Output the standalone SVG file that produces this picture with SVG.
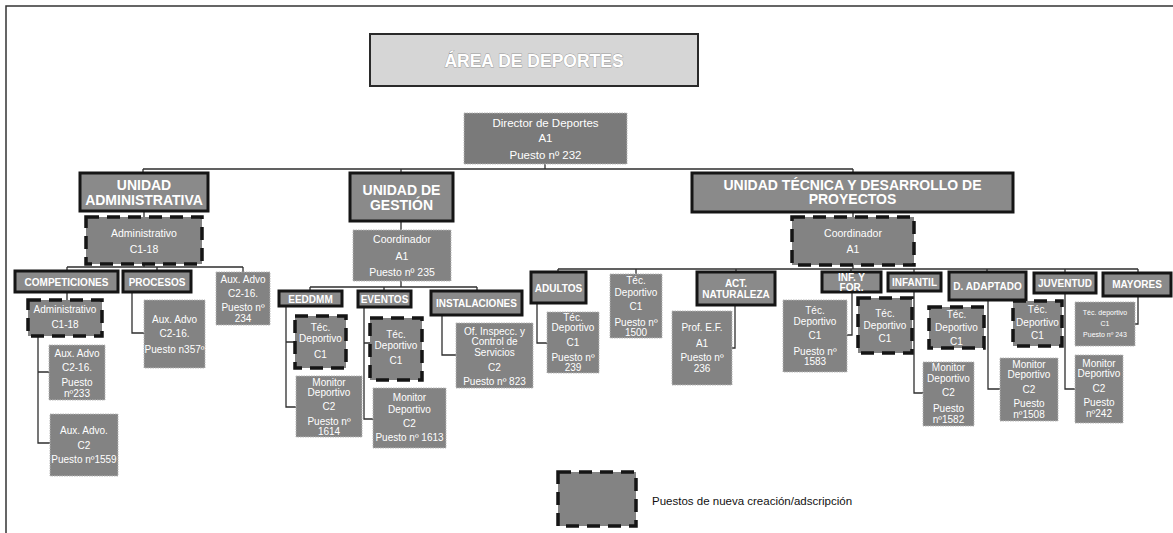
<svg xmlns="http://www.w3.org/2000/svg" width="1173" height="533" viewBox="0 0 1173 533">
<style>
.frame{fill:none;stroke:#333;stroke-width:1.5}
.post{fill:#838383;stroke:#b8b8b8;stroke-width:1;stroke-dasharray:1.5 1}
.new{fill:#838383;stroke:#151515;stroke-width:3.5;stroke-dasharray:13 8}
.unit{fill:#8a8a8a;stroke:#151515;stroke-width:3}
.title{fill:#d6d6d6;stroke:#2a2a2a;stroke-width:2}
.c{fill:none;stroke:#2e2e2e;stroke-width:1.3}
text{font-family:'Liberation Sans',Arial,sans-serif;fill:#fff;text-anchor:middle;font-size:10px}
.b{font-weight:bold}
.u{font-size:14px;font-weight:bold}
.m{font-size:10.5px}
.s{font-size:7px}
</style>
<rect x="0" y="0" width="1173" height="533" fill="#fff"/>
<path class="frame" d="M6,540 V6 H1180"/>

<g id="connectors">
<path class="c" d="M545,164 V169 M143,169 H853 M143,169 V173 M401,169 V173 M853,169 V173"/>
<path class="c" d="M144,211 V217 M144,264 V267 M67,267 H243 M67,267 V271 M157,267 V271 M243,267 V272"/>
<path class="c" d="M67,292 V300 M38,336 V443 H50 M38,372 H49 M132,292 V333 H144"/>
<path class="c" d="M401,221 V230 M401,281 V287 M310,287 H477 M310,287 V291 M384,287 V291 M477,287 V291"/>
<path class="c" d="M286,306 V407 H296 M286,342 H295 M364,307 V419 H373 M364,343 H370 M442,315 V355 H456"/>
<path class="c" d="M853,212 V217 M853,265 V269 M558,269 H1138 M558,269 V272 M636,269 V274 M736,269 V272 M851,269 V272 M914,269 V273 M987,269 V272 M1065,269 V273 M1138,269 V273"/>
<path class="c" d="M537,303 V343 H547 M735,305 V348 H732 M852,292 V335 H847 M914,291 V393 H923 M988,300 V389 H1000 M1065,293 V389 H1075 M1138,296 V324 H1135"/>
</g>

<g id="title">
<rect class="title" x="370" y="34" width="328" height="52"/>
<text x="534" y="67" class="b" style="font-size:17.5px;stroke:#9a9a9a;stroke-width:0.8;paint-order:stroke">ÁREA DE DEPORTES</text>
</g>

<g id="director">
<rect class="post" x="464" y="113" width="163" height="51" style="fill:#7a7a7a"/>
<text x="545.5" y="127" style="font-size:11.5px">Director de Deportes</text>
<text x="545.5" y="142" style="font-size:11.5px">A1</text>
<text x="545.5" y="159" style="font-size:11.5px">Puesto nº 232</text>
</g>

<g id="unidad-administrativa">
<rect class="unit" x="80" y="173" width="128" height="38"/>
<text x="144" y="190" class="u">UNIDAD</text>
<text x="144" y="205" class="u">ADMINISTRATIVA</text>
</g>
<g id="unidad-gestion">
<rect class="unit" x="350" y="173" width="103" height="48"/>
<text x="401.5" y="195" class="u">UNIDAD DE</text>
<text x="401.5" y="210" class="u">GESTIÓN</text>
</g>
<g id="unidad-tecnica">
<rect class="unit" x="692" y="173" width="321" height="39"/>
<text x="852.5" y="190" class="u">UNIDAD TÉCNICA Y DESARROLLO DE</text>
<text x="852.5" y="204" class="u">PROYECTOS</text>
</g>

<g id="ua-administrativo">
<rect class="new" x="86" y="217" width="116" height="47"/>
<text x="144" y="237" class="m">Administrativo</text>
<text x="144" y="253" class="m">C1-18</text>
</g>
<g id="competiciones">
<rect class="unit" x="15" y="271" width="103" height="21"/>
<text x="66.5" y="285.5" class="b">COMPETICIONES</text>
</g>
<g id="procesos">
<rect class="unit" x="123" y="271" width="68" height="21"/>
<text x="157" y="285.5" class="b">PROCESOS</text>
</g>
<g id="aux-234">
<rect class="post" x="216" y="272" width="54" height="53"/>
<text x="243" y="282.5">Aux. Advo</text>
<text x="243" y="296.5">C2-16.</text>
<text x="243" y="311">Puesto nº</text>
<text x="243" y="322">234</text>
</g>
<g id="comp-administrativo">
<rect class="new" x="28" y="300" width="74" height="36"/>
<text x="65" y="312.5">Administrativo</text>
<text x="65" y="327.5">C1-18</text>
</g>
<g id="aux-233">
<rect class="post" x="49" y="345" width="56" height="55"/>
<text x="77" y="356.5">Aux. Advo</text>
<text x="77" y="370.5">C2-16.</text>
<text x="77" y="385.5">Puesto</text>
<text x="77" y="396.5">nº233</text>
</g>
<g id="aux-1559">
<rect class="post" x="50" y="414" width="68" height="62"/>
<text x="84" y="433.5">Aux. Advo.</text>
<text x="84" y="448.5">C2</text>
<text x="84" y="462.5">Puesto nº1559</text>
</g>
<g id="aux-357">
<rect class="post" x="144" y="300" width="61" height="68"/>
<text x="174.5" y="322.5">Aux. Advo</text>
<text x="174.5" y="336.5">C2-16.</text>
<text x="174.5" y="352.5">Puesto n357º</text>
</g>

<g id="coordinador-235">
<rect class="post" x="353" y="230" width="98" height="51"/>
<text x="402" y="243" class="m">Coordinador</text>
<text x="402" y="260" class="m">A1</text>
<text x="402" y="276" class="m">Puesto nº 235</text>
</g>
<g id="eeddmm">
<rect class="unit" x="279" y="291" width="63" height="15"/>
<text x="310.5" y="302.5" class="b">EEDDMM</text>
</g>
<g id="eventos">
<rect class="unit" x="358" y="291" width="53" height="16"/>
<text x="384.5" y="303" class="b">EVENTOS</text>
</g>
<g id="instalaciones">
<rect class="unit" x="431" y="291" width="91" height="24"/>
<text x="476.5" y="306.5" class="b">INSTALACIONES</text>
</g>
<g id="eeddmm-tec">
<rect class="new" x="295" y="316" width="51" height="52"/>
<text x="320.5" y="330.5">Téc.</text>
<text x="320.5" y="341.5">Deportivo</text>
<text x="320.5" y="357.5">C1</text>
</g>
<g id="monitor-1614">
<rect class="post" x="296" y="376" width="66" height="61"/>
<text x="329" y="385.5">Monitor</text>
<text x="329" y="395.5">Deportivo</text>
<text x="329" y="409.5">C2</text>
<text x="329" y="424.5">Puesto nº</text>
<text x="329" y="434.5">1614</text>
</g>
<g id="eventos-tec">
<rect class="new" x="370" y="318" width="52" height="62"/>
<text x="396" y="337.5">Téc.</text>
<text x="396" y="348.5">Deportivo</text>
<text x="396" y="363.5">C1</text>
</g>
<g id="monitor-1613">
<rect class="post" x="373" y="388" width="73" height="60"/>
<text x="409.5" y="400.5">Monitor</text>
<text x="409.5" y="412.5">Deportivo</text>
<text x="409.5" y="426.5">C2</text>
<text x="409.5" y="440.5">Puesto nº 1613</text>
</g>
<g id="of-inspecc-823">
<rect class="post" x="456" y="323" width="77" height="65"/>
<text x="494.5" y="334.5">Of. Inspecc. y</text>
<text x="494.5" y="344.5">Control de</text>
<text x="494.5" y="355.5">Servicios</text>
<text x="494.5" y="370.5">C2</text>
<text x="494.5" y="384.5">Puesto nº 823</text>
</g>

<g id="ut-coordinador">
<rect class="new" x="792" y="217" width="122" height="48"/>
<text x="853" y="237" class="m">Coordinador</text>
<text x="853" y="253" class="m">A1</text>
</g>
<g id="adultos">
<rect class="unit" x="531" y="272" width="55" height="31"/>
<text x="558.5" y="291.5" class="b">ADULTOS</text>
</g>
<g id="tec-1500">
<rect class="post" x="610" y="274" width="52" height="64"/>
<text x="636" y="283.5">Téc.</text>
<text x="636" y="295.5">Deportivo</text>
<text x="636" y="309.5">C1</text>
<text x="636" y="325.5">Puesto nº</text>
<text x="636" y="335.5">1500</text>
</g>
<g id="act-naturaleza">
<rect class="unit" x="697" y="272" width="78" height="33"/>
<text x="736" y="286.5" class="b">ACT.</text>
<text x="736" y="297.5" class="b">NATURALEZA</text>
</g>
<g id="tec-239">
<rect class="post" x="547" y="312" width="52" height="61"/>
<text x="573" y="320.5">Téc.</text>
<text x="573" y="330.5">Deportivo</text>
<text x="573" y="345.5">C1</text>
<text x="573" y="360.5">Puesto nº</text>
<text x="573" y="370.5">239</text>
</g>
<g id="prof-236">
<rect class="post" x="672" y="311" width="60" height="74"/>
<text x="702" y="330.5">Prof. E.F.</text>
<text x="702" y="346.5">A1</text>
<text x="702" y="361">Puesto nº</text>
<text x="702" y="371.5">236</text>
</g>
<g id="inf-for">
<rect class="unit" x="822" y="272" width="59" height="20"/>
<text x="851.5" y="280.5" class="b">INF. Y</text>
<text x="851.5" y="290.5" class="b">FOR.</text>
</g>
<g id="tec-1583">
<rect class="post" x="783" y="300" width="64" height="72"/>
<text x="815" y="313.5">Téc.</text>
<text x="815" y="324.5">Deportivo</text>
<text x="815" y="338.5">C1</text>
<text x="815" y="354.5">Puesto nº</text>
<text x="815" y="364.5">1583</text>
</g>
<g id="infantil-tec">
<rect class="new" x="858" y="298" width="54" height="55"/>
<text x="885" y="316.5">Téc.</text>
<text x="885" y="328.5">Deportivo</text>
<text x="885" y="341.5">C1</text>
</g>
<g id="infantil">
<rect class="unit" x="888" y="273" width="53" height="18"/>
<text x="914.5" y="285.5" class="b">INFANTIL</text>
</g>
<g id="monitor-1582">
<rect class="post" x="923" y="362" width="51" height="64"/>
<text x="948.5" y="370.5">Monitor</text>
<text x="948.5" y="381.5">Deportivo</text>
<text x="948.5" y="395.5">C2</text>
<text x="948.5" y="411.5">Puesto</text>
<text x="948.5" y="422.5">nº1582</text>
</g>
<g id="d-adaptado">
<rect class="unit" x="949" y="272" width="77" height="28"/>
<text x="987.5" y="289.5" class="b">D. ADAPTADO</text>
</g>
<g id="adaptado-tec">
<rect class="new" x="929" y="307" width="55" height="41"/>
<text x="956.5" y="317.5">Téc.</text>
<text x="956.5" y="330.5">Deportivo</text>
<text x="956.5" y="344.5">C1</text>
</g>
<g id="monitor-1508">
<rect class="post" x="1000" y="358" width="58" height="63"/>
<text x="1029" y="367.5">Monitor</text>
<text x="1029" y="377.5">Deportivo</text>
<text x="1029" y="392.5">C2</text>
<text x="1029" y="406.5">Puesto</text>
<text x="1029" y="417.5">nº1508</text>
</g>
<g id="juventud">
<rect class="unit" x="1034" y="273" width="62" height="20"/>
<text x="1065" y="286.5" class="b">JUVENTUD</text>
</g>
<g id="juventud-tec">
<rect class="new" x="1013" y="301" width="49" height="45"/>
<text x="1037.5" y="312.5">Téc.</text>
<text x="1037.5" y="325.5">Deportivo</text>
<text x="1037.5" y="338.5">C1</text>
</g>
<g id="monitor-242">
<rect class="post" x="1075" y="355" width="48" height="68"/>
<text x="1099" y="366.5">Monitor</text>
<text x="1099" y="376.5">Deportivo</text>
<text x="1099" y="391.5">C2</text>
<text x="1099" y="405.5">Puesto</text>
<text x="1099" y="416.5">nº242</text>
</g>
<g id="mayores">
<rect class="unit" x="1103" y="273" width="68" height="23"/>
<text x="1137" y="288" class="b">MAYORES</text>
</g>
<g id="tec-243">
<rect class="post" x="1075" y="302" width="60" height="44"/>
<text x="1105" y="315" class="s">Téc. deportivo</text>
<text x="1105" y="326" class="s">C1</text>
<text x="1105" y="336.5" class="s">Puesto nº 243</text>
</g>

<g id="legend">
<rect class="new" x="558" y="472" width="78" height="54"/>
<text x="652" y="505" style="font-size:11.5px;fill:#111;text-anchor:start">Puestos de nueva creación/adscripción</text>
</g>
</svg>
